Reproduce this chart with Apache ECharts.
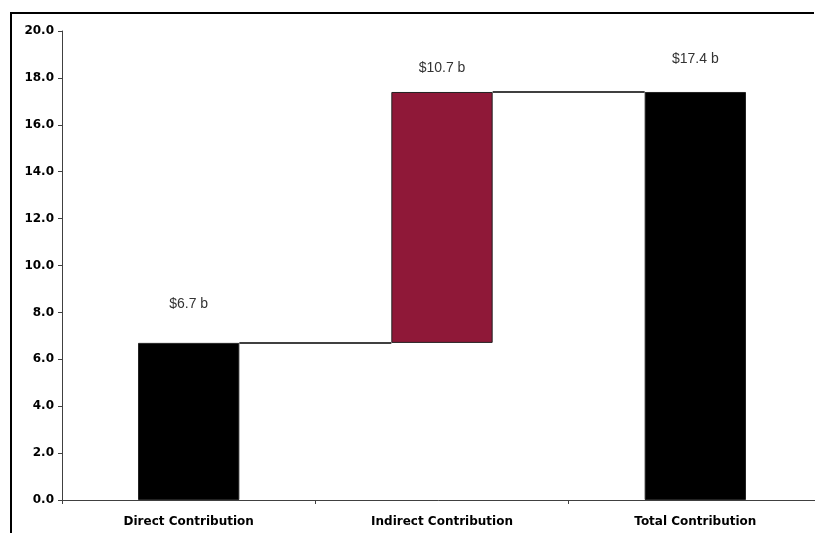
<!DOCTYPE html>
<html>
<head>
<meta charset="utf-8">
<script src="https://cdn.jsdelivr.net/npm/echarts@6/dist/echarts.min.js"></script>
<style>
  html, body { margin: 0; padding: 0; background: #fff; }
  #chart { width: 815px; height: 533px; }
</style>
</head>
<body>
<div id="chart"></div>
<script>
// data (billions)
var categories = ["Direct Contribution", "Indirect Contribution", "Total Contribution"];
var baseValues = [0, 6.7, 0];
var stepValues = [6.7, 10.7, 17.4];
var stepLabels = ["$6.7 b", "$10.7 b", "$17.4 b"];
var barColors = ["#000000", "#8f1838", "#000000"];
// label gap above each bar, the original places them unevenly
var labelGaps = [32, 17, 26];
// connectors: [from category index, level]
var connectors = [[0, 6.7], [1, 17.4]];

var chart = echarts.init(document.getElementById("chart"));

var barData = stepValues.map(function (v, i) {
  return {
    value: v,
    itemStyle: { color: barColors[i] },
    label: { distance: labelGaps[i], formatter: stepLabels[i] }
  };
});

chart.setOption({
  animation: false,
  grid: { left: 62, top: 31, width: 760, height: 469, outerBoundsMode: "none", containLabel: false },
  graphic: [
    { type: "line", shape: { x1: 10, y1: 13, x2: 814, y2: 13 }, style: { stroke: "#000", lineWidth: 2 } },
    { type: "line", shape: { x1: 11, y1: 12, x2: 11, y2: 533 }, style: { stroke: "#000", lineWidth: 2 } }
  ],
  xAxis: {
    type: "category",
    data: categories,
    axisLine: { lineStyle: { color: "#404040", width: 1 } },
    axisTick: { show: true, length: 4, lineStyle: { color: "#404040" } },
    axisLabel: {
      color: "#000",
      fontFamily: "DejaVu Sans",
      fontWeight: "bold",
      fontSize: 12,
      margin: 16
    }
  },
  yAxis: {
    type: "value",
    min: 0,
    max: 20,
    interval: 2,
    axisLine: { show: true, lineStyle: { color: "#404040", width: 1 } },
    axisTick: { show: true, length: 4, lineStyle: { color: "#404040" } },
    splitLine: { show: false },
    axisLabel: {
      color: "#000",
      fontFamily: "DejaVu Sans",
      fontWeight: "bold",
      fontSize: 12,
      margin: 8,
      formatter: function (v) { return v.toFixed(1); }
    }
  },
  series: [
    {
      name: "base",
      type: "bar",
      stack: "w",
      barWidth: "40%",
      itemStyle: { color: "transparent" },
      data: baseValues
    },
    {
      name: "step",
      type: "bar",
      stack: "w",
      barWidth: "40%",
      itemStyle: { borderColor: "#222", borderWidth: 1 },
      label: {
        show: true,
        position: "top",
        color: "#333",
        fontFamily: "Liberation Sans, Arial",
        fontSize: 14
      },
      data: barData
    },
    {
      name: "connectors",
      type: "custom",
      silent: true,
      data: connectors,
      renderItem: function (params, api) {
        var i = api.value(0);
        var level = api.value(1);
        var band = api.size([1, 0])[0];
        var a = api.coord([i, level]);
        var b = api.coord([i + 1, level]);
        return {
          type: "line",
          shape: { x1: a[0] + band * 0.2, y1: a[1], x2: b[0] - band * 0.2, y2: b[1] },
          style: { stroke: "#000", lineWidth: 1.5 }
        };
      },
      z: 3
    }
  ]
});
</script>
</body>
</html>
